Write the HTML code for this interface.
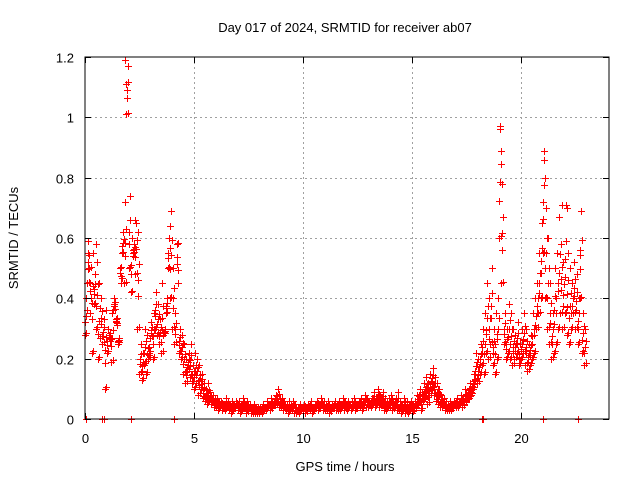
<!DOCTYPE html>
<html><head><meta charset="utf-8"><style>
body{margin:0;background:#fff}
svg{display:block;font-family:"Liberation Sans",sans-serif;font-size:13px}
</style></head><body>
<svg id="chart" width="640" height="480" viewBox="0 0 640 480">
<rect width="640" height="480" fill="#fff"/>
<text x="345" y="32" text-anchor="middle" fill="#000">Day 017 of 2024, SRMTID for receiver ab07</text>
<text transform="translate(18,238) rotate(-90)" text-anchor="middle" fill="#000">SRMTID / TECUs</text>
<text x="345" y="471" text-anchor="middle" fill="#000">GPS time / hours</text>
<g id="grid"></g>
<g id="marks"></g>
<rect x="85" y="57" width="524" height="362" fill="none" stroke="#000" stroke-width="1"/>
<g id="ticks"></g>
</svg>
<script>
const xTicks=[0,5,10,15,20];
const yTicks=[0,0.2,0.4,0.6,0.8,1,1.2];
const yTickLabels=["0","0.2","0.4","0.6","0.8","1","1.2"];
const hours=[0,0.1,0.2,0.3,0.4,0.5,0.6,0.7,0.8,0.9,1,1.1,1.2,1.3,1.4,1.5,1.6,1.7,1.8,1.9,2,2.1,2.2,2.3,2.4,2.5,2.6,2.7,2.8,2.9,3,3.1,3.2,3.3,3.4,3.5,3.6,3.7,3.8,3.9,4,4.1,4.2,4.3,4.4,4.5,4.6,4.7,4.8,4.9,5,5.1,5.2,5.3,5.4,5.5,5.6,5.7,5.8,5.9,6,6.1,6.2,6.3,6.4,6.5,6.6,6.7,6.8,6.9,7,7.1,7.2,7.3,7.4,7.5,7.6,7.7,7.8,7.9,8,8.1,8.2,8.3,8.4,8.5,8.6,8.7,8.8,8.9,9,9.1,9.2,9.3,9.4,9.5,9.6,9.7,9.8,9.9,10,10.1,10.2,10.3,10.4,10.5,10.6,10.7,10.8,10.9,11,11.1,11.2,11.3,11.4,11.5,11.6,11.7,11.8,11.9,12,12.1,12.2,12.3,12.4,12.5,12.6,12.7,12.8,12.9,13,13.1,13.2,13.3,13.4,13.5,13.6,13.7,13.8,13.9,14,14.1,14.2,14.3,14.4,14.5,14.6,14.7,14.8,14.9,15,15.1,15.2,15.3,15.4,15.5,15.6,15.7,15.8,15.9,16,16.1,16.2,16.3,16.4,16.5,16.6,16.7,16.8,16.9,17,17.1,17.2,17.3,17.4,17.5,17.6,17.7,17.8,17.9,18,18.1,18.2,18.3,18.4,18.5,18.6,18.7,18.8,18.9,19,19.1,19.2,19.3,19.4,19.5,19.6,19.7,19.8,19.9,20,20.1,20.2,20.3,20.4,20.5,20.6,20.7,20.8,20.9,21,21.1,21.2,21.3,21.4,21.5,21.6,21.7,21.8,21.9,22,22.1,22.2,22.3,22.4,22.5,22.6,22.7,22.8,22.9];
const valuesA=[0.40,0.59,0.35,0.55,0.48,0.52,0.45,0.40,0.33,0.36,
0.30,0.26,0.35,0.40,0.31,0.27,0.45,0.62,0.72,1.17,
0.74,0.60,0.58,0.65,0.62,0.25,0.22,0.30,0.28,0.24,
0.32,0.35,0.42,0.38,0.33,0.45,0.30,0.40,0.60,0.69,
0.50,0.35,0.45,0.30,0.28,0.25,0.20,0.22,0.25,0.18,
0.22,0.20,0.18,0.15,0.12,0.10,0.12,0.09,0.08,0.07,
0.07,0.06,0.06,0.05,0.07,0.06,0.05,0.06,0.05,0.06,
0.06,0.05,0.07,0.05,0.06,0.05,0.04,0.05,0.04,0.04,
0.04,0.05,0.04,0.06,0.05,0.07,0.06,0.08,0.10,0.07,
0.07,0.06,0.05,0.06,0.05,0.06,0.05,0.04,0.05,0.04,
0.05,0.04,0.05,0.06,0.04,0.05,0.06,0.05,0.07,0.06,
0.05,0.06,0.04,0.05,0.06,0.05,0.06,0.05,0.07,0.06,
0.06,0.05,0.06,0.07,0.05,0.06,0.07,0.06,0.08,0.07,
0.06,0.07,0.09,0.07,0.10,0.08,0.09,0.07,0.06,0.07,
0.08,0.06,0.07,0.09,0.06,0.05,0.07,0.06,0.05,0.06,
0.05,0.06,0.08,0.10,0.09,0.12,0.14,0.12,0.15,0.17,
0.14,0.12,0.10,0.08,0.07,0.06,0.05,0.06,0.05,0.06,
0.07,0.06,0.08,0.07,0.10,0.09,0.12,0.11,0.15,0.22,
0.20,0.25,0.30,0.35,0.45,0.40,0.50,0.30,0.35,0.40,
0.97,0.78,0.35,0.30,0.38,0.35,0.30,0.28,0.32,0.25,
0.30,0.35,0.30,0.25,0.28,0.35,0.40,0.45,0.55,0.65,
0.89,0.70,0.60,0.45,0.35,0.50,0.55,0.67,0.58,0.52,
0.71,0.55,0.50,0.45,0.52,0.48,0.40,0.69,0.35,0.30];
const valuesB=[0.28,0.45,0.50,0.22,0.38,0.30,0.20,0.27,0.25,0.10,
0.22,0.28,0.19,0.36,0.33,0.25,0.50,0.55,0.45,1.01,
0.50,0.42,0.55,0.48,0.30,0.15,0.13,0.18,0.15,0.20,
0.27,0.20,0.30,0.28,0.25,0.22,0.28,0.35,0.50,0.40,
0.30,0.25,0.58,0.22,0.20,0.15,0.12,0.16,0.14,0.12,
0.10,0.12,0.08,0.10,0.07,0.06,0.05,0.06,0.05,0.04,
0.04,0.03,0.04,0.03,0.03,0.04,0.03,0.02,0.03,0.04,
0.03,0.02,0.03,0.04,0.02,0.03,0.02,0.02,0.02,0.02,
0.02,0.02,0.03,0.03,0.04,0.03,0.04,0.05,0.05,0.04,
0.04,0.03,0.03,0.02,0.03,0.03,0.02,0.02,0.02,0.03,
0.03,0.02,0.03,0.03,0.02,0.03,0.04,0.03,0.04,0.03,
0.03,0.03,0.02,0.03,0.04,0.03,0.03,0.03,0.04,0.03,
0.03,0.04,0.03,0.04,0.03,0.04,0.04,0.03,0.05,0.04,
0.04,0.04,0.05,0.04,0.05,0.04,0.05,0.03,0.03,0.04,
0.04,0.03,0.04,0.03,0.03,0.02,0.03,0.02,0.02,0.03,
0.02,0.03,0.04,0.05,0.03,0.06,0.07,0.05,0.08,0.10,
0.08,0.06,0.05,0.04,0.04,0.03,0.03,0.03,0.03,0.04,
0.04,0.04,0.05,0.04,0.05,0.06,0.07,0.08,0.10,0.13,
0.12,0.15,0.18,0.15,0.22,0.20,0.25,0.18,0.15,0.20,
0.60,0.45,0.25,0.20,0.22,0.20,0.18,0.20,0.22,0.18,
0.20,0.22,0.18,0.16,0.18,0.20,0.22,0.30,0.35,0.40,
0.55,0.40,0.30,0.25,0.20,0.22,0.25,0.30,0.35,0.30,
0.35,0.28,0.25,0.30,0.35,0.30,0.25,0.40,0.22,0.18];
const extraHours=[1.85,1.9,0.15,0.5,2.3,3.9,19.05,19.1,21.05,21.1,21.9,22.1,22.7];
const extraValues=[1.19,1.11,0.55,0.58,0.66,0.64,0.96,0.89,0.86,0.80,0.71,0.70,0.56];
const zeroHours=[0.05,0.8,0.85,2.1,4.1,18.2,18.25,21.0,22.6];

const X0=85,X1=609,Y0=419,Y1=57,XMAX=24.04,YMAX=1.2;
function sx(h){return X0+(h/XMAX)*(X1-X0);}
function sy(v){return Y0-(v/YMAX)*(Y0-Y1);}
const NS="http://www.w3.org/2000/svg";
const grid=document.getElementById('grid'),ticks=document.getElementById('ticks'),marks=document.getElementById('marks');
function line(p,x1,y1,x2,y2,st,dash){const l=document.createElementNS(NS,'line');l.setAttribute('x1',x1);l.setAttribute('y1',y1);l.setAttribute('x2',x2);l.setAttribute('y2',y2);l.setAttribute('stroke',st);if(dash)l.setAttribute('stroke-dasharray',dash);p.appendChild(l);return l;}
yTicks.forEach((v,i)=>{const y=Math.round(sy(v))+0.5;
 if(v>0&&v<YMAX){const g=line(grid,X0,y,X1,y,'#a0a0a0','2,3');}
 const t1=line(ticks,X0,y,X0+6,y,'#000');
 const t2=line(ticks,X1-6,y,X1,y,'#000');
 const t=document.createElementNS(NS,'text');t.setAttribute('x',X0-11);t.setAttribute('y',y+5);t.setAttribute('text-anchor','end');t.textContent=yTickLabels[i];
 
 
 ticks.appendChild(t);});
xTicks.forEach(h=>{const x=Math.round(sx(h))+0.5;
 if(h>0){const g=line(grid,x,Y1,x,Y0,'#a0a0a0','2,3');}
 const t1=line(ticks,x,Y0,x,Y0-6,'#000');
 const t2=line(ticks,x,Y1,x,Y1+6,'#000');
 const t=document.createElementNS(NS,'text');t.setAttribute('x',x);t.setAttribute('y',Y0+24);t.setAttribute('text-anchor','middle');t.textContent=String(h);
 
 
 ticks.appendChild(t);});
function plus(h,v,col){const x=Math.round(sx(h))+0.5,y=Math.round(sy(v))+0.5;
 const p=document.createElementNS(NS,'path');p.setAttribute('d',`M${x-3.5},${y}H${x+3.5}M${x},${y-3.5}V${y+3.5}`);p.setAttribute('stroke',col);p.setAttribute('fill','none');
 
 
 marks.appendChild(p);}
hours.forEach((h,i)=>{const a=valuesA[i],b=valuesB[i];
 plus(h,b,'#ff0000');plus(h+0.05,a,'#ff0000');plus(h+0.03,(a+b)/2,'#ff0000');
 plus(h+0.08,(2*a+b)/3,'#ff0000');plus(h+0.015,(a+2*b)/3,'#ff0000');plus(h+0.065,b+0.005,'#ff0000');});
extraHours.forEach((h,i)=>plus(h,extraValues[i],'#ff0000'));
zeroHours.forEach(h=>plus(h,0,'#ff0000'));
</script>
</body></html>
